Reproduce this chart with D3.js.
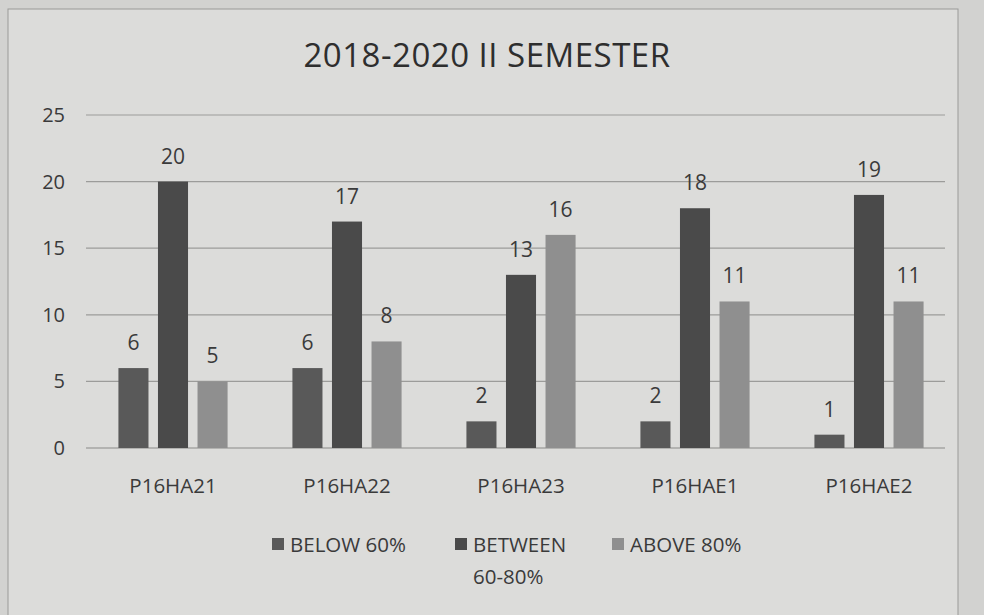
<!DOCTYPE html>
<html>
<head>
<meta charset="utf-8">
<script src="https://cdn.jsdelivr.net/npm/d3@7"></script>
<style>
  body { margin: 0; background: #cfcfcd; }
  svg { display: block; }
</style>
</head>
<body>
<div id="chart"></div>
<script>
// 데이터
const categories = ["P16HA21", "P16HA22", "P16HA23", "P16HAE1", "P16HAE2"];
const seriesNames = ["BELOW 60%", "BETWEEN 60-80%", "ABOVE 80%"];
const below60 = [6, 6, 2, 2, 1];
const between6080 = [20, 17, 13, 18, 19];
const above80 = [5, 8, 16, 11, 11];
const yTicks = [0, 5, 10, 15, 20, 25];

const seriesValues = [below60, between6080, above80];
const colors = ["#595959", "#4a4a4a", "#8f8f8f"];

const width = 984, height = 615;
const margin = {top: 115, right: 30, bottom: 167, left: 86};

const svg = d3.select("#chart").append("svg")
  .attr("width", width)
  .attr("height", height)
  .style("font-family", "'Open Sans', sans-serif");

// 종이 배경 + 차트 테두리
svg.append("rect").attr("width", width).attr("height", height).attr("fill", "#d2d2d0");
svg.append("rect")
  .attr("x", 8).attr("y", 9).attr("width", 950).attr("height", 620)
  .attr("fill", "#dcdcda")
  .attr("stroke", "#9a9a98")
  .attr("stroke-width", 1);

const x0 = d3.scaleBand()
  .domain(categories)
  .range([margin.left, 956])
  .paddingInner(0)
  .paddingOuter(0);

const x1 = d3.scaleBand()
  .domain(seriesNames)
  .range([0, x0.bandwidth()])
  .paddingInner(0.24)
  .paddingOuter(0.82);

const y = d3.scaleLinear()
  .domain([0, 25])
  .range([448, 115]);

// 그리드 라인
svg.append("g")
  .selectAll("line")
  .data(yTicks)
  .join("line")
  .attr("x1", margin.left)
  .attr("x2", 945)
  .attr("y1", d => y(d))
  .attr("y2", d => y(d))
  .attr("stroke", d => d === 0 ? "#8a8a88" : "#9c9c9a")
  .attr("stroke-width", 1.2);

// y축 라벨
svg.append("g")
  .selectAll("text")
  .data(yTicks)
  .join("text")
  .attr("x", 65)
  .attr("y", d => y(d))
  .attr("dy", "0.35em")
  .attr("text-anchor", "end")
  .attr("font-size", 20)
  .attr("fill", "#3a3a3a")
  .text(d => d);

// 막대
const rows = categories.map((c, i) => ({cat: c, vals: seriesNames.map((s, j) => ({s, j, v: seriesValues[j][i]}))}));

const groups = svg.append("g")
  .selectAll("g")
  .data(rows)
  .join("g")
  .attr("transform", d => `translate(${x0(d.cat)},0)`);

groups.selectAll("rect")
  .data(d => d.vals)
  .join("rect")
  .attr("x", d => x1(d.s))
  .attr("y", d => y(d.v))
  .attr("width", x1.bandwidth())
  .attr("height", d => y(0) - y(d.v))
  .attr("fill", d => colors[d.j]);

groups.selectAll("text")
  .data(d => d.vals)
  .join("text")
  .attr("x", d => x1(d.s) + x1.bandwidth() / 2)
  .attr("y", d => y(d.v) - 18)
  .attr("text-anchor", "middle")
  .attr("font-size", 21)
  .attr("fill", "#3a3a3a")
  .text(d => d.v);

// x축 라벨
svg.append("g")
  .selectAll("text")
  .data(categories)
  .join("text")
  .attr("x", d => x0(d) + x0.bandwidth() / 2)
  .attr("y", 493)
  .attr("text-anchor", "middle")
  .attr("font-size", 20.5)
  .attr("fill", "#3a3a3a")
  .text(d => d);

// 제목
svg.append("text")
  .attr("x", 487)
  .attr("y", 67)
  .attr("text-anchor", "middle")
  .attr("font-size", 33)
  .attr("fill", "#2e2e2e")
  .style("letter-spacing", "0.5px")
  .text("2018-2020 II SEMESTER");

// 범례
const legendItems = [
  {x: 272, lines: ["BELOW 60%"]},
  {x: 455, lines: ["BETWEEN", "60-80%"]},
  {x: 612, lines: ["ABOVE 80%"]}
];
const legend = svg.append("g")
  .selectAll("g")
  .data(legendItems)
  .join("g")
  .attr("transform", d => `translate(${d.x},0)`);

legend.append("rect")
  .attr("x", 0).attr("y", 538)
  .attr("width", 12).attr("height", 12)
  .attr("fill", (d, i) => colors[i]);

legend.each(function (d) {
  const t = d3.select(this).append("text")
    .attr("x", 18)
    .attr("y", 552)
    .attr("font-size", 20.5)
    .attr("fill", "#3a3a3a");
  d.lines.forEach((ln, k) => {
    t.append("tspan")
      .attr("x", 18)
      .attr("dy", k === 0 ? 0 : 32)
      .text(ln);
  });
});
</script>
</body>
</html>
